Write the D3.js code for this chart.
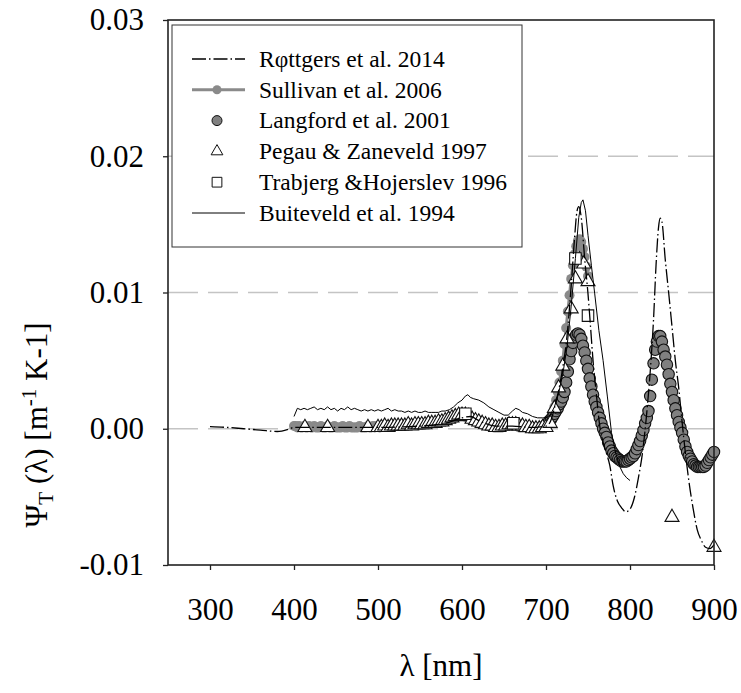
<!DOCTYPE html>
<html><head><meta charset="utf-8">
<script src="https://cdn.jsdelivr.net/npm/d3@7"></script>
<style>body{margin:0;background:#fff}svg{display:block}</style>
</head><body>
<svg id="c" width="741" height="693"></svg>
<script>
// ---------- data ----------
const xTicks = [300, 400, 500, 600, 700, 800, 900];
const yTicks = [0.03, 0.02, 0.01, 0, -0.01];
const yTickLabels = ["0.03", "0.02", "0.01", "0.00", "-0.01"];
const gridValues = [0.02, 0.01, 0];
const legendNames = ["R\u03c6ttgers et al. 2014", "Sullivan et al. 2006", "Langford et al. 2001",
  "Pegau & Zaneveld 1997", "Trabjerg &Hojerslev 1996", "Buiteveld et al. 1994"];

const rottgersWl = [300,320,340,360,380,395,400,450,500,550,580,600,610,620,640,660,680,700,705,710,715,720,725,730,734,737,739,742,746,750,753,756,760,764,768,772,776,780,785,790,795,800,805,810,815,820,825,828,831,834,836,838,842,846,850,854,858,862,866,870,875,880,885,890,895,900];
const rottgersVal = [0.00015,0.0001,0.0,-0.0001,-0.0002,0.0,0.0001,0.0001,0.0001,0.0002,0.0004,0.0008,0.0009,0.0006,0.0002,0.0002,0.0001,0.0002,0.0005,0.0015,0.0028,0.0045,0.0068,0.0105,0.0140,0.0160,0.0163,0.0155,0.0125,0.0099,0.0075,0.0050,0.0025,0.0002,-0.0010,-0.0018,-0.0027,-0.0042,-0.0053,-0.0058,-0.0061,-0.0059,-0.0051,-0.0036,-0.0017,0.0012,0.0050,0.0080,0.0120,0.0148,0.01545,0.0152,0.0124,0.0100,0.0075,0.0050,0.0030,0.0005,-0.0018,-0.0038,-0.0058,-0.0074,-0.0082,-0.0087,-0.0088,-0.0085];

const sullivanWl = [400,402,404,406,408,410,412,414,416,418,420,422,424,426,428,430,432,434,436,438,440,442,444,446,448,450,452,454,456,458,460,462,464,466,468,470,472,474,476,478,480,482,484,486,488,490,492,494,496,498,
500,502,504,506,508,510,512,514,516,518,520,522,524,526,528,530,532,534,536,538,540,542,544,546,548,550,552,554,556,558,560,562,564,566,568,570,572,574,576,578,580,582,584,586,588,590,592,594,596,598,
600,602,604,606,608,610,612,614,616,618,620,622,624,626,628,630,632,634,636,638,640,642,644,646,648,650,652,654,656,658,660,662,664,666,668,670,672,674,676,678,680,682,684,686,688,690,692,694,696,698,
700,702,704,706,708,710,712,714,716,718,720,722,724,726,728,730,732,734,736,738,740,742,744,746,748,750];
const sullivanVal = [0.0002,0.0002,0.0001,0.0002,0.0001,0.0001,0.0002,0.0001,0.0001,0.0002,0.0001,0.0001,0.0002,0.0001,0.0001,0.0001,0.0002,0.0001,0.0001,0.0001,0.0002,0.0001,0.0001,0.0001,0.0002,0.0001,0.0001,0.0001,0.0001,0.0002,0.0001,0.0001,0.0001,0.0002,0.0001,0.0001,0.0001,0.0001,0.0001,0.0002,0.0001,0.0001,0.0001,0.0001,0.0002,0.0001,0.0001,0.0002,0.0001,0.0002,
0.0002,0.0001,0.0002,0.0002,0.0002,0.0002,0.0002,0.0002,0.0003,0.0002,0.0002,0.0002,0.0003,0.0002,0.0002,0.0003,0.0002,0.0003,0.0003,0.0003,0.0003,0.0003,0.0003,0.0003,0.0003,0.0003,0.0003,0.0003,0.0004,0.0004,0.0004,0.0004,0.0004,0.0004,0.0005,0.0005,0.0005,0.0005,0.0006,0.0006,0.0006,0.0007,0.0007,0.0007,0.0008,0.0008,0.0008,0.0009,0.0009,0.0009,
0.0009,0.0009,0.0009,0.0008,0.0008,0.0007,0.0007,0.0006,0.0005,0.0005,0.0004,0.0004,0.0003,0.0003,0.0003,0.0002,0.0002,0.0002,0.0002,0.0001,0.0001,0.0001,0.0001,0.0001,0.0001,0.0002,0.0002,0.0002,0.0002,0.0002,0.0002,0.0002,0.0002,0.0002,0.0001,0.0001,0.0001,0.0001,0.0001,0.0001,0.0001,0.0001,0.0001,0.0001,0.0001,0.0001,0.0001,0.0001,0.0002,0.0002,
0.0002,0.0003,0.0004,0.0007,0.0011,0.0016,0.0021,0.0027,0.0034,0.0042,0.0050,0.0062,0.0074,0.0086,0.0098,0.0110,0.0120,0.0128,0.0134,0.0138,0.0139,0.0137,0.0132,0.0126,0.0119,0.0112];

const langfordWl = [700,702,704,706,708,710,712,714,716,718,720,722,724,726,728,730,732,734,736,738,740,742,744,746,748,750,752,754,756,758,760,762,764,766,768,770,772,774,776,778,780,782,784,786,788,790,792,794,796,798,800,802,804,806,808,810,812,814,816,818,820,822,824,826,828,830,832,834,836,838,840,842,844,846,848,850,852,854,856,858,860,862,864,866,868,870,872,874,876,878,880,882,884,886,888,890,892,894,896,898,900];
const langfordVal = [0.0003,0.0004,0.0006,0.0007,0.0009,0.0011,0.0013,0.0015,0.0018,0.0020,0.0023,0.0027,0.0034,0.0042,0.0051,0.0057,0.0063,0.0067,0.0069,0.0070,0.0069,0.0066,0.0061,0.0056,0.0050,0.0044,0.0037,0.0031,0.0025,0.0020,0.0016,0.0012,0.0008,0.0004,0.0000,-0.0003,-0.0006,-0.0010,-0.0013,-0.0016,-0.0018,-0.0020,-0.0021,-0.0022,-0.0023,-0.0024,-0.0024,-0.0024,-0.0024,-0.0023,-0.0022,-0.0021,-0.0020,-0.0018,-0.0015,-0.0012,-0.0009,-0.0005,-0.0001,0.0004,0.0008,0.0013,0.0024,0.0036,0.0048,0.0058,0.0064,0.0068,0.0068,0.0064,0.0058,0.0053,0.0047,0.0040,0.0033,0.0027,0.0021,0.0015,0.0010,0.0005,0.0001,-0.0003,-0.0008,-0.0013,-0.0017,-0.0020,-0.0022,-0.0024,-0.0026,-0.0027,-0.0028,-0.0028,-0.0028,-0.0028,-0.0028,-0.0027,-0.0025,-0.0023,-0.0021,-0.0019,-0.0017];

const pegauWl = [413,440,488,500,504,508,512,516,520,524,528,532,536,540,544,548,552,556,560,564,568,572,576,580,584,588,592,596,600,604,608,612,616,620,624,628,632,636,640,644,648,652,656,660,664,668,672,676,680,684,688,692,696,700,705,710,715,720,725,730,735,740,745,750,850,900];
const pegauVal = [0.0001,0.0001,0.0001,0.0001,0.0001,0.0002,0.0001,0.0002,0.0002,0.0002,0.0002,0.0002,0.0003,0.0002,0.0003,0.0003,0.0003,0.0003,0.0004,0.0004,0.0004,0.0005,0.0005,0.0006,0.0007,0.0008,0.0009,0.0010,0.0010,0.0010,0.0009,0.0007,0.0006,0.0005,0.0004,0.0003,0.0002,0.0002,0.0001,0.0001,0.0002,0.0002,0.0003,0.0003,0.0003,0.0002,0.0002,0.0001,0.0001,0.0000,0.0000,0.0000,0.0001,0.0001,0.0004,0.0015,0.0030,0.0046,0.0066,0.0088,0.0110,0.0124,0.0121,0.0108,-0.0065,-0.0087];

const trabjergWl = [604, 661, 735, 750];
const trabjergVal = [0.0011, 0.0004, 0.0125, 0.0083];

const buiteveldWl = [400,404,408,412,416,420,424,428,432,436,440,444,448,452,456,460,464,468,472,476,480,484,488,492,496,500,504,508,512,516,520,524,528,532,536,540,544,548,552,556,560,564,568,572,576,580,585,590,595,600,604,607,610,614,620,626,632,638,644,650,655,660,664,668,672,678,684,690,696,700,705,710,715,720,725,730,735,739,742,744,747,750,754,758,763,768,773,778,783,788,792,796,800];
const buiteveldVal = [0.0009,0.0015,0.0014,0.0015,0.0014,0.0015,0.0016,0.0014,0.0015,0.0014,0.0016,0.0014,0.0015,0.0013,0.0015,0.0014,0.0016,0.0014,0.0015,0.0014,0.0013,0.0014,0.0013,0.0014,0.0013,0.0014,0.0013,0.0014,0.0015,0.0013,0.0014,0.0013,0.0013,0.0012,0.0013,0.0012,0.0013,0.0012,0.0012,0.0013,0.0012,0.0012,0.0012,0.0012,0.0013,0.0013,0.0014,0.0016,0.0019,0.0021,0.0024,0.0025,0.0023,0.0022,0.0021,0.0019,0.0016,0.0014,0.0012,0.0010,0.0010,0.0013,0.0015,0.0014,0.0012,0.0011,0.0009,0.0008,0.0008,0.0008,0.0010,0.0016,0.0026,0.0040,0.0060,0.0090,0.0125,0.0155,0.0166,0.0168,0.0160,0.0142,0.0120,0.0099,0.0072,0.0050,0.0024,-0.0003,-0.0018,-0.0028,-0.0033,-0.0036,-0.0038];

// ---------- chart ----------
const svg = d3.select("#c");
const serif = "'Liberation Serif','Times New Roman',Times,serif";
const x = d3.scaleLinear().domain([250, 900]).range([168, 714]);
const y = d3.scaleLinear().domain([-0.01, 0.03]).range([565, 20]);
const zip = (a, b) => a.map((d, i) => [d, b[i]]);

// gridlines
svg.append("g").selectAll("line").data(gridValues).join("line")
  .attr("x1", x(250)).attr("x2", x(900))
  .attr("y1", d => y(d)).attr("y2", d => y(d))
  .attr("stroke", "#c4c4c4").attr("stroke-width", 1.3).attr("stroke-dasharray", "30,10");

const lineGen = d3.line().x(d => x(d[0])).y(d => y(d[1])).curve(d3.curveMonotoneX);

// Sullivan
const sul = zip(sullivanWl, sullivanVal);
svg.append("path").datum(sul).attr("d", lineGen).attr("fill", "none")
  .attr("stroke", "#8a8a8a").attr("stroke-width", 3);
svg.append("g").selectAll("circle").data(sul).join("circle")
  .attr("cx", d => x(d[0])).attr("cy", d => y(d[1])).attr("r", 5).attr("fill", "#8a8a8a");

// Langford
svg.append("g").selectAll("circle").data(zip(langfordWl, langfordVal)).join("circle")
  .attr("cx", d => x(d[0])).attr("cy", d => y(d[1])).attr("r", 5.7)
  .attr("fill", "#808080").attr("stroke", "#111").attr("stroke-width", 1.1);

// Pegau
const tri = d3.symbol().type(d3.symbolTriangle).size(85);
svg.append("g").selectAll("path").data(zip(pegauWl, pegauVal)).join("path")
  .attr("d", tri).attr("transform", d => `translate(${x(d[0])},${y(d[1])})`)
  .attr("fill", "#fff").attr("stroke", "#111").attr("stroke-width", 1.1);

// Trabjerg
const sq = d3.symbol().type(d3.symbolSquare).size(132);
svg.append("g").selectAll("path").data(zip(trabjergWl, trabjergVal)).join("path")
  .attr("d", sq).attr("transform", d => `translate(${x(d[0])},${y(d[1])})`)
  .attr("fill", "#fff").attr("stroke", "#111").attr("stroke-width", 1.1);

// Røttgers
svg.append("path").datum(zip(rottgersWl, rottgersVal)).attr("d", lineGen).attr("fill", "none")
  .attr("stroke", "#000").attr("stroke-width", 1.3).attr("stroke-dasharray", "14,3,1.5,3");

// Buiteveld
svg.append("path").datum(zip(buiteveldWl, buiteveldVal)).attr("d", d3.line().x(d => x(d[0])).y(d => y(d[1])))
  .attr("fill", "none").attr("stroke", "#000").attr("stroke-width", 1);

// frame
svg.append("rect").attr("x", 168).attr("y", 20).attr("width", 546).attr("height", 545)
  .attr("fill", "none").attr("stroke", "#222").attr("stroke-width", 1.6);

// axes
const xAxis = d3.axisBottom(x).tickValues(xTicks).tickSize(5).tickSizeOuter(0).tickPadding(28);
const gx = svg.append("g").attr("transform", "translate(0,565)").call(xAxis);
gx.select(".domain").remove();
gx.selectAll("line").attr("stroke", "#222").attr("stroke-width", 1.3);
gx.selectAll("text").attr("font-family", serif).attr("font-size", 31).attr("fill", "#000");

const yAxis = d3.axisLeft(y).tickValues(yTicks).tickFormat((d, i) => yTickLabels[i]).tickSize(5).tickSizeOuter(0).tickPadding(19);
const gy = svg.append("g").attr("transform", "translate(168,0)").call(yAxis);
gy.select(".domain").remove();
gy.selectAll("line").attr("stroke", "#222").attr("stroke-width", 1.3);
gy.selectAll("text").attr("font-family", serif).attr("font-size", 31).attr("fill", "#000");

// axis titles
svg.append("text").attr("x", 441).attr("y", 676).attr("text-anchor", "middle")
  .attr("font-family", serif).attr("font-size", 31).text("\u03bb [nm]");

const yt = svg.append("text").attr("transform", "translate(47,425) rotate(-90)")
  .attr("text-anchor", "middle").attr("font-family", serif).attr("font-size", 31);
yt.append("tspan").text("\u03a8");
yt.append("tspan").attr("font-size", 21).attr("dy", 6).text("T");
yt.append("tspan").attr("dy", -6).text(" (\u03bb) [m");
yt.append("tspan").attr("font-size", 21).attr("dy", -11).text("-1");
yt.append("tspan").attr("dy", 11).text(" K-1]");

// legend
const lg = svg.append("g");
lg.append("rect").attr("x", 172).attr("y", 25).attr("width", 350).attr("height", 222)
  .attr("fill", "#fff").attr("stroke", "#333").attr("stroke-width", 1);
const rowY = i => 59 + i * 30.8;
const sx0 = 192, sx1 = 245, sxm = 217;
legendNames.forEach((name, i) => {
  const cy = rowY(i);
  lg.append("text").attr("x", 259).attr("y", cy + 7.8).attr("font-family", serif)
    .attr("font-size", 23.5).text(name);
});
lg.append("line").attr("x1", sx0).attr("x2", sx1).attr("y1", rowY(0)).attr("y2", rowY(0))
  .attr("stroke", "#000").attr("stroke-width", 1.3).attr("stroke-dasharray", "14,3,1.5,3");
lg.append("line").attr("x1", sx0).attr("x2", sx1).attr("y1", rowY(1)).attr("y2", rowY(1))
  .attr("stroke", "#8a8a8a").attr("stroke-width", 3);
lg.append("circle").attr("cx", sxm).attr("cy", rowY(1)).attr("r", 4.5).attr("fill", "#8a8a8a");
lg.append("circle").attr("cx", sxm).attr("cy", rowY(2)).attr("r", 5)
  .attr("fill", "#808080").attr("stroke", "#111").attr("stroke-width", 1);
lg.append("path").attr("d", d3.symbol().type(d3.symbolTriangle).size(60))
  .attr("transform", `translate(${sxm},${rowY(3)})`).attr("fill", "#fff").attr("stroke", "#111");
lg.append("path").attr("d", d3.symbol().type(d3.symbolSquare).size(95))
  .attr("transform", `translate(${sxm},${rowY(4)})`).attr("fill", "#fff").attr("stroke", "#111");
lg.append("line").attr("x1", sx0).attr("x2", sx1).attr("y1", rowY(5)).attr("y2", rowY(5))
  .attr("stroke", "#000").attr("stroke-width", 1);
</script>
</body></html>
